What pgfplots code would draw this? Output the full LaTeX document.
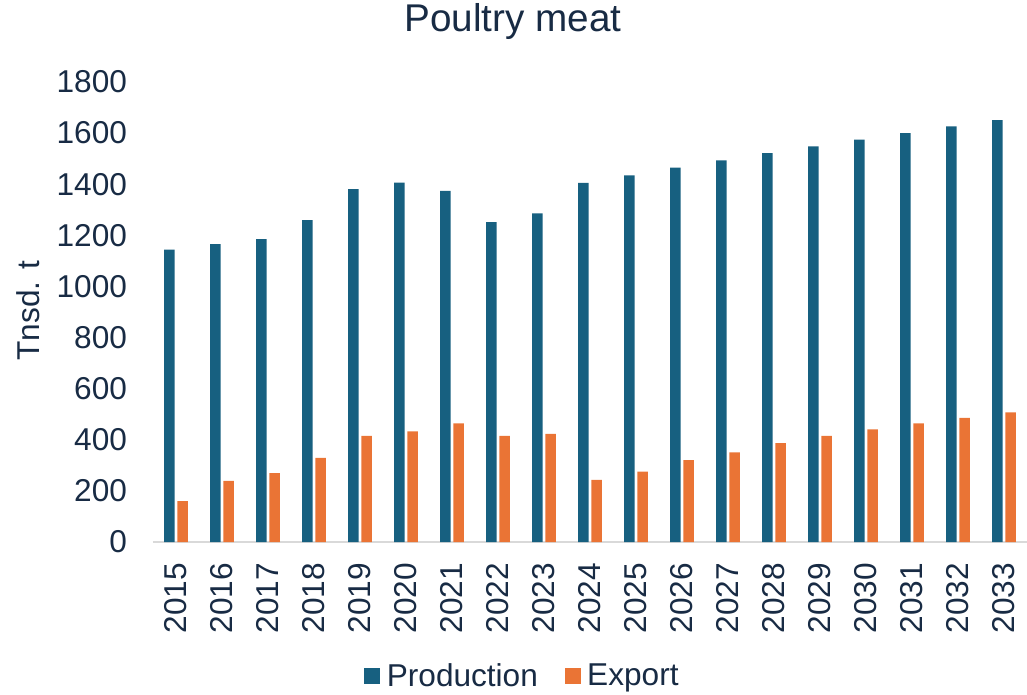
\documentclass[border=0pt]{standalone}
\usepackage{pgfplots}
\pgfplotsset{compat=1.18}
\usepackage{fontspec}
\setmainfont{Liberation Sans}
\definecolor{prod}{RGB}{23,96,128}
\definecolor{expo}{RGB}{234,116,53}
\definecolor{txt}{RGB}{24,43,68}
\definecolor{axgray}{RGB}{217,217,217}
\begin{document}
\begin{tikzpicture}
\begin{axis}[
  at={(0pt,0pt)}, anchor=south west,
  scale only axis, width=655.5pt, height=345pt,
  xmin=-0.5, xmax=18.5, ymin=0, ymax=1800,
  ybar, bar width=7.9pt,
  xtick=data,
  xticklabels={2015,2016,2017,2018,2019,2020,2021,2022,2023,2024,2025,2026,2027,2028,2029,2030,2031,2032,2033},
  ytick={0,200,...,1800},
  scaled y ticks=false,
  /pgf/number format/assume math mode=true,
  /pgf/number format/1000 sep={},
  major tick length=0pt,
  axis x line*=bottom, axis y line*=left,
  y axis line style={draw=none},
  x axis line style={draw=axgray, line width=1.5pt, -},
  tick label style={font=\fontsize{23.7}{28}\selectfont, text=txt},
  yticklabel style={xshift=-16pt},
  xticklabel style={rotate=90, anchor=east, inner sep=0pt, xshift=-15.5pt},
  title={Poultry meat},
  title style={at={(axis description cs:0.412,1.0928)}, anchor=base, font=\fontsize{29}{34}\selectfont, text=txt},
  ylabel={Tnsd. t},
  ylabel style={at={(axis description cs:-0.1304,0.503)}, anchor=base, font=\fontsize{23.7}{28}\selectfont, text=txt},
  legend style={at={(axis description cs:0.423,-0.291)}, anchor=center, draw=none, legend columns=-1,
    font=\fontsize{23.7}{28}\selectfont, text=txt,
    /tikz/every odd column/.append style={column sep=3pt},
    /tikz/every even column/.append style={column sep=18pt}},
  legend image code/.code={\fill[#1] (0pt,-6pt) rectangle (12pt,6pt);},
]
\addplot[fill=prod, draw=none, bar shift=-5pt] coordinates {
(0,1144) (1,1166) (2,1185) (3,1260) (4,1381) (5,1406) (6,1374) (7,1252) (8,1286) (9,1405)
(10,1435) (11,1465) (12,1493) (13,1522) (14,1548) (15,1575) (16,1600) (17,1626) (18,1651)};
\addlegendentry{Production}
\addplot[fill=expo, draw=none, bar shift=5pt] coordinates {
(0,160) (1,239) (2,270) (3,329) (4,415) (5,433) (6,464) (7,415) (8,423) (9,243)
(10,275) (11,320) (12,351) (13,387) (14,415) (15,441) (16,464) (17,486) (18,507)};
\addlegendentry{Export}
\end{axis}
\pgfresetboundingbox
\path[use as bounding box] (-114.75pt,-114pt) rectangle (655.5pt,406.5pt);
\end{tikzpicture}
\end{document}
